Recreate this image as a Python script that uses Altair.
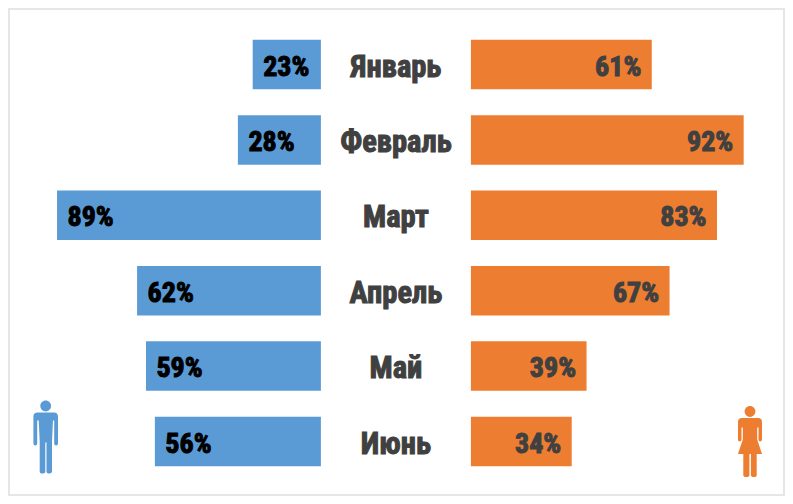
import altair as alt
import pandas as pd

months = ["Январь", "Февраль", "Март", "Апрель", "Май", "Июнь"]
men = [23, 28, 89, 62, 59, 56]
women = [61, 92, 83, 67, 39, 34]
gap = 25.3
font = "'Roboto Condensed', 'Open Sans Condensed', 'Liberation Sans', sans-serif"

BLUE = "#5B9BD5"
ORANGE = "#ED7D31"
DARK = "#404040"


def px_path(cmds, cx, cy, half):
    """Icon outline given in pixels around its centre, scaled to symbol units."""
    out = []
    for c in cmds:
        if isinstance(c, str):
            out.append(c)
        else:
            out.append(f"{c[0] / half:.4f},{c[1] / half:.4f}")
    return " ".join(out)


def head(y, r=5.4):
    return ["M", (-r, y), "A", (r, r), "0 1 1", (r, y), "A", (r, r), "0 1 1", (-r, y), "Z"]


man_cmds = head(-30.5) + [
    "M", (-8, -24), "L", (8, -24), "Q", (12.3, -24), (12.3, -20),
    "L", (12.3, 7), "Q", (12.3, 9), (10.4, 9), "Q", (8.5, 9), (8.5, 7),
    "L", (8.5, -16), "L", (7.3, -16), "L", (6.3, 5),
    "L", (6.3, 35), "Q", (6.3, 37), (3.9, 37), "Q", (0.8, 37), (0.8, 35),
    "L", (0.8, 6), "L", (-0.4, 6),
    "L", (-0.4, 35), "Q", (-0.4, 37), (-3.2, 37), "Q", (-6, 37), (-6, 35),
    "L", (-6, 5), "L", (-7, -16), "L", (-8.5, -16), "L", (-8.5, 7),
    "Q", (-8.5, 9), (-10.4, 9), "Q", (-12.3, 9), (-12.3, 7), "L", (-12.3, -20),
    "Q", (-12.3, -24), (-8, -24), "Z",
]
woman_cmds = head(-30) + [
    "M", (-8, -23.5), "L", (8, -23.5), "Q", (12, -23.5), (12, -19.5),
    "L", (12, -2), "Q", (12, 0), (10.2, 0), "Q", (8.5, 0), (8.5, -2),
    "L", (8.5, -14), "L", (7.2, -14), "L", (7.2, -2), "L", (12, 12.5),
    "L", (6.7, 12.5), "L", (6.7, 33.5), "Q", (6.7, 35.5), (3.9, 35.5), "Q", (0.9, 35.5), (0.9, 33.5),
    "L", (0.9, 12.5), "L", (-0.6, 12.5), "L", (-0.6, 33.5),
    "Q", (-0.6, 35.5), (-3.6, 35.5), "Q", (-6.7, 35.5), (-6.7, 33.5), "L", (-6.7, 12.5),
    "L", (-12, 12.5), "L", (-7.2, -2), "L", (-7.2, -14), "L", (-8.5, -14), "L", (-8.5, -2),
    "Q", (-8.5, 0), (-10.2, 0), "Q", (-12, 0), (-12, -2), "L", (-12, -19.5),
    "Q", (-12, -23.5), (-8, -23.5), "Z",
]
man_path = px_path(man_cmds, 0, 0, 36.75)
woman_path = px_path(woman_cmds, 0, 0, 35.5)

df = pd.DataFrame({
    "month": months,
    "men": men,
    "women": women,
    "men_start": [-gap] * 6,
    "women_start": [gap] * 6,
    "men_end": [-gap - v for v in men],
    "women_end": [gap + v for v in women],
    "men_label": [f"{v}%" for v in men],
    "women_label": [f"{v}%" for v in women],
    "zero": [0] * 6,
})

X = alt.Scale(domain=[-130.5, 130.9], nice=False, zero=False)
Y = alt.Scale(domain=months, range=[17.8, 470.2], paddingInner=0.3435, paddingOuter=0.17175)
y = alt.Y("month:N", scale=Y, axis=None, sort=months)
base = alt.Chart(df)

men_bars = base.mark_bar(color=BLUE).encode(
    x=alt.X("men_start:Q", scale=X, axis=None), x2="men_end:Q", y=y)
women_bars = base.mark_bar(color=ORANGE).encode(
    x=alt.X("women_start:Q", scale=X, axis=None), x2="women_end:Q", y=y)

pct = dict(font=font, fontWeight="bold", fontSize=28, strokeWidth=1, baseline="middle")
mon = dict(font=font, fontWeight="bold", fontSize=30.5, strokeWidth=1, baseline="middle")
men_text = base.mark_text(align="left", dx=10.5, dy=3, color="#000000", stroke="#000000", **pct).encode(
    x=alt.X("men_end:Q", scale=X, axis=None), y=y, text="men_label:N")
women_text = base.mark_text(align="right", dx=-10.5, dy=3, color=DARK, stroke=DARK, **pct).encode(
    x=alt.X("women_end:Q", scale=X, axis=None), y=y, text="women_label:N")
month_text = base.mark_text(align="center", dy=3, color=DARK, stroke=DARK, **mon).encode(
    x=alt.X("zero:Q", scale=X, axis=None), y=y, text="month:N")

icon_man = alt.Chart(pd.DataFrame({"k": ["man"]})).mark_point(
    shape=man_path, filled=True, color=BLUE, opacity=1, size=73.5 ** 2, strokeWidth=0
).encode(x=alt.value(36.7), y=alt.value(427.5))
icon_woman = alt.Chart(pd.DataFrame({"k": ["woman"]})).mark_point(
    shape=woman_path, filled=True, color=ORANGE, opacity=1, size=71 ** 2, strokeWidth=0
).encode(x=alt.value(741), y=alt.value(432.5))

chart = (
    alt.layer(men_bars, women_bars, men_text, women_text, month_text, icon_man, icon_woman)
    .properties(width=775, height=486, padding=1, background="white")
    .configure_view(stroke="#E6E6E6", strokeWidth=2)
)
chart.save("out.html", embed_options={"renderer": "svg", "actions": False})
